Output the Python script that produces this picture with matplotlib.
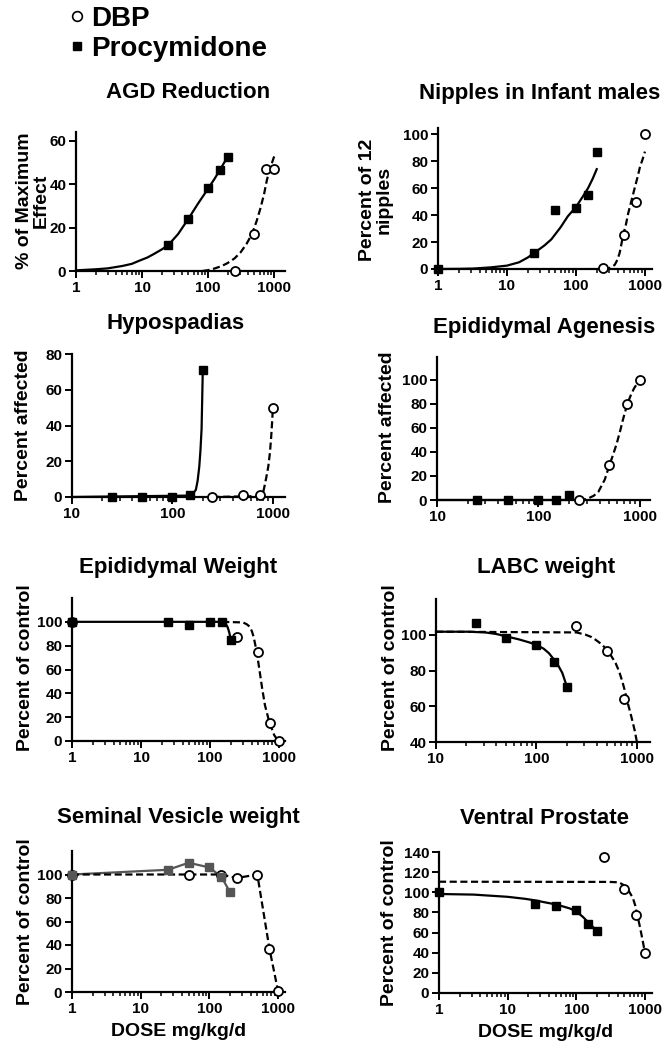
import matplotlib
matplotlib.use("Agg")
import matplotlib.pyplot as plt
from matplotlib.lines import Line2D
from matplotlib.ticker import FixedLocator, LogLocator, NullFormatter

plt.rcParams['font.family'] = ['Liberation Sans', 'DejaVu Sans']
plt.rcParams['font.weight'] = 'bold'

# ---- data (dose in mg/kg/d) ----
# AGD reduction
agd_pro_dose = [25, 50, 100, 150, 200]
agd_pro = [12, 24, 38, 46.5, 52.5]
agd_dbp_dose = [250, 500, 750, 1000]
agd_dbp = [0, 17, 47, 47]
agd_pro_fit_dose = [1, 2, 3, 5, 7, 9, 12, 15, 20, 25, 35, 50, 70, 100, 125, 150, 175, 200]
agd_pro_fit = [0.3, 0.8, 1.2, 2.3, 3.3, 4.7, 6.2, 7.8, 10, 12, 17, 24, 31, 38, 42.5, 46.5, 50, 52.5]
agd_dbp_fit_dose = [82, 100, 123, 160, 195, 250, 309, 380, 462, 540, 617, 700, 776, 880, 1000]
agd_dbp_fit = [0, 0.4, 1.1, 2.3, 3.6, 5.8, 8.6, 12.5, 17.2, 23, 28.9, 35.5, 42.2, 48, 53]

# Nipples in infant males
nip_pro_dose = [1, 25, 50, 100, 150, 200]
nip_pro = [0, 12, 44, 45, 55, 87]
nip_dbp_dose = [250, 500, 750, 1000]
nip_dbp = [1, 25, 50, 100]
nip_pro_fit_dose = [1, 2, 3.2, 5.8, 10, 15, 20, 25, 35, 44, 60, 76, 100, 125, 150, 175, 200]
nip_pro_fit = [0, 0.1, 0.3, 1.2, 2.5, 5, 8.5, 12, 17.5, 22, 31, 39, 46, 53.5, 60, 67, 74]
nip_dbp_fit_dose = [250, 300, 364, 400, 430, 483, 530, 570, 640, 710, 780, 850, 920, 1000]
nip_dbp_fit = [0, 0.5, 3, 7, 12, 25, 33, 41, 51, 60, 68, 76, 81, 87]

# Hypospadias
hyp_pro_dose = [25, 50, 100, 150, 200]
hyp_pro = [0, 0, 0, 1.3, 71]
hyp_dbp_dose = [250, 500, 750, 1000]
hyp_dbp = [0, 1.3, 1.3, 50]
hyp_pro_fit_dose = [10, 150, 163, 171, 178, 185, 190, 195, 200]
hyp_pro_fit = [0, 0.8, 2.5, 4, 9, 17, 26, 38, 68]
hyp_dbp_fit_dose = [250, 750, 800, 825, 860, 900, 935, 960, 985, 1000]
hyp_dbp_fit = [0, 0.5, 2.5, 6, 11, 17, 25, 33, 43, 50]

# Epididymal agenesis
epa_pro_dose = [25, 50, 100, 150, 200]
epa_pro = [0, 0, 0, 0, 4]
epa_dbp_dose = [250, 500, 750, 1000]
epa_dbp = [0, 29, 80, 99.5]
epa_pro_fit_dose = [10, 200]
epa_pro_fit = [0, 0]
epa_dbp_fit_dose = [250, 280, 310, 350, 390, 450, 500, 545, 590, 640, 680, 750, 810, 875, 940, 1000]
epa_dbp_fit = [0, 0.5, 1.4, 3.5, 7, 17, 29, 38, 47, 58, 67, 80, 87, 93, 97, 99.5]

# Epididymal weight
epw_pro_dose = [1, 25, 50, 100, 150, 200]
epw_pro = [100, 100, 97.5, 100, 100, 85]
epw_dbp_dose = [1, 250, 500, 750, 1000]
epw_dbp = [100, 87, 75, 15, 0]
epw_pro_fit_dose = [1, 150, 160, 170, 180, 190, 200]
epw_pro_fit = [100, 100, 99.5, 98, 95.5, 91, 85]
epw_dbp_fit_dose = [150, 300, 340, 375, 405, 430, 470, 510, 570, 625, 700, 750, 800, 850, 920, 1000]
epw_dbp_fit = [100, 99.5, 98, 96, 92, 87, 76, 63, 44, 30, 19, 14, 9, 5, 2, 0]

# LABC weight
lab_pro_dose = [25, 50, 100, 150, 200]
lab_pro = [106.6, 98.3, 94.3, 85, 70.7]
lab_dbp_dose = [250, 500, 750]
lab_dbp = [104.8, 91, 64]
lab_pro_fit_dose = [10, 21, 31, 40, 50, 67, 85, 100, 118, 133, 152, 167, 181, 200]
lab_pro_fit = [101.7, 101.7, 101.3, 100.4, 99.1, 97.4, 95.7, 94.3, 92.2, 89.7, 85.6, 82.2, 78.6, 71.3]
lab_dbp_fit_dose = [10, 250, 309, 350, 388, 450, 512, 560, 613, 665, 715, 760, 800, 850, 900, 950, 1000]
lab_dbp_fit = [101.7, 101.3, 100, 98.8, 97.2, 94.5, 91, 87.8, 84.2, 79.5, 74, 68.5, 63, 57.5, 52, 46.5, 40]

# Seminal vesicle weight (points joined, no fit)
sv_pro_dose = [1, 25, 50, 100, 150, 200]
sv_pro = [100, 104, 110, 106, 98, 85]
sv_dbp_dose = [1, 50, 150, 250, 500, 750, 1000]
sv_dbp = [100, 100, 100, 97, 100, 37, 1]

# Ventral prostate
vp_pro_dose = [1, 25, 50, 100, 150, 200]
vp_pro = [100, 88.4, 86, 82.8, 69, 61.5]
vp_dbp_dose = [250, 500, 750, 1000]
vp_dbp = [135, 103, 77.5, 39.7]
vp_pro_fit_dose = [1, 3.2, 10, 18, 25, 35, 50, 60, 80, 100, 125, 150, 175, 200]
vp_pro_fit = [98.3, 97.7, 95.5, 93.5, 92, 90, 88, 86.5, 84, 81, 75.5, 70, 65.5, 61]
vp_dbp_fit_dose = [1, 300, 380, 428, 480, 537, 580, 620, 668, 720, 773, 830, 883, 940, 1000]
vp_dbp_fit = [110.5, 110.3, 110, 109.5, 107.5, 104.5, 101.5, 98, 94, 87, 77, 68, 59, 49.5, 39.6]

W, H = 671, 1050
fig = plt.figure(figsize=(W / 100, H / 100), dpi=100)
fig.patch.set_facecolor('white')

LW = 1.6


def make_axes(left, top, right, bottom, xmin, xmax, ylo, yhi, yticks):
    ax = fig.add_axes([left / W, 1 - bottom / H, (right - left) / W, (bottom - top) / H])
    ax.set_xscale('log')
    ax.set_xlim(xmin, xmax)
    ax.set_ylim(ylo, yhi)
    majors = [t for t in [1, 10, 100, 1000] if t >= xmin]
    ax.xaxis.set_major_locator(FixedLocator(majors))
    ax.set_xticklabels([str(t) for t in majors])
    ax.xaxis.set_minor_locator(LogLocator(base=10, subs=range(2, 10)))
    ax.xaxis.set_minor_formatter(NullFormatter())
    ax.set_yticks(yticks)
    ax.set_yticklabels([str(t) for t in yticks])
    for s in ['top', 'right']:
        ax.spines[s].set_visible(False)
    for s in ['left', 'bottom']:
        ax.spines[s].set_linewidth(LW)
    ax.tick_params(which='major', direction='out', length=5, width=1.4, labelsize=11, pad=2)
    ax.tick_params(which='minor', direction='out', length=3, width=1.1)
    ax.tick_params(axis='y', which='minor', length=0)
    ax.patch.set_alpha(0)
    return ax


def fit_line(ax, x, y, dashed=False, color='black'):
    if dashed:
        ax.plot(x, y, color=color, lw=LW, dashes=(3.2, 1.6), clip_on=False, zorder=2)
    else:
        ax.plot(x, y, color=color, lw=LW, clip_on=False, zorder=2)


def squares(ax, x, y, color='black'):
    ax.plot(x, y, 's', color=color, ms=5.5, clip_on=False, zorder=4)


def circles(ax, x, y):
    ax.plot(x, y, 'o', mfc='white', mec='black', ms=6.5, mew=1.3, clip_on=False, zorder=3)


def title(x, y, s):
    fig.text(x / W, 1 - y / H, s, ha='center', va='center', fontsize=16, fontweight='bold')


def ylab(x, y, s):
    fig.text(x / W, 1 - y / H, s, ha='center', va='center', rotation=90,
             fontsize=14, fontweight='bold', linespacing=1.0)


# AGD reduction
ax = make_axes(76, 132, 285, 271, 1, 1450, 0, 64, [0, 20, 40, 60])
fit_line(ax, agd_pro_fit_dose, agd_pro_fit)
fit_line(ax, agd_dbp_fit_dose, agd_dbp_fit, dashed=True)
squares(ax, agd_pro_dose, agd_pro)
circles(ax, agd_dbp_dose, agd_dbp)
title(188, 92, 'AGD Reduction')
ylab(33, 201, '% of Maximum\nEffect')

# Nipples
ax = make_axes(438, 128, 652, 269, 1, 1265, 0, 104.5, [0, 20, 40, 60, 80, 100])
fit_line(ax, nip_pro_fit_dose, nip_pro_fit)
fit_line(ax, nip_dbp_fit_dose, nip_dbp_fit, dashed=True)
squares(ax, nip_pro_dose, nip_pro)
circles(ax, nip_dbp_dose, nip_dbp)
title(540, 94, 'Nipples in Infant males')
ylab(376, 200, 'Percent of 12\nnipples')

# Hypospadias
ax = make_axes(72, 354, 285, 497, 10, 1320, 0, 80, [0, 20, 40, 60, 80])
fit_line(ax, hyp_pro_fit_dose, hyp_pro_fit)
fit_line(ax, hyp_dbp_fit_dose, hyp_dbp_fit, dashed=True)
squares(ax, hyp_pro_dose, hyp_pro)
circles(ax, hyp_dbp_dose, hyp_dbp)
title(176, 323, 'Hypospadias')
ylab(24, 425, 'Percent affected')

# Epididymal agenesis
ax = make_axes(437, 357, 650, 500, 10, 1255, 0, 119, [0, 20, 40, 60, 80, 100])
fit_line(ax, epa_pro_fit_dose, epa_pro_fit)
fit_line(ax, epa_dbp_fit_dose, epa_dbp_fit, dashed=True)
squares(ax, epa_pro_dose, epa_pro)
circles(ax, epa_dbp_dose, epa_dbp)
title(544, 328, 'Epididymal Agenesis')
ylab(388, 427, 'Percent affected')

# Epididymal weight
ax = make_axes(72, 598, 285, 741, 1, 1220, 0, 120, [0, 20, 40, 60, 80, 100])
fit_line(ax, epw_pro_fit_dose, epw_pro_fit)
fit_line(ax, epw_dbp_fit_dose, epw_dbp_fit, dashed=True)
circles(ax, epw_dbp_dose, epw_dbp)
squares(ax, epw_pro_dose, epw_pro)
title(178, 568, 'Epididymal Weight')
ylab(26, 668, 'Percent of control')

# LABC weight
ax = make_axes(436, 599, 650, 742, 10, 1350, 40, 120, [40, 60, 80, 100])
fit_line(ax, lab_pro_fit_dose, lab_pro_fit)
fit_line(ax, lab_dbp_fit_dose, lab_dbp_fit, dashed=True)
squares(ax, lab_pro_dose, lab_pro)
circles(ax, lab_dbp_dose, lab_dbp)
title(546, 568, 'LABC weight')
ylab(390, 668, 'Percent of control')

# Seminal vesicle weight
ax = make_axes(72, 851, 285, 992, 1, 1265, 0, 120, [0, 20, 40, 60, 80, 100])
fit_line(ax, sv_pro_dose, sv_pro, color='#555555')
fit_line(ax, sv_dbp_dose, sv_dbp, dashed=True)
circles(ax, sv_dbp_dose, sv_dbp)
squares(ax, sv_pro_dose, sv_pro, color='#555555')
title(178, 818, 'Seminal Vesicle weight')
ylab(26, 922, 'Percent of control')
ax.set_xlabel('DOSE mg/kg/d', fontsize=14, fontweight='bold', labelpad=5)

# Ventral prostate
ax = make_axes(439, 852, 652, 993, 1, 1265, 0, 140, [0, 20, 40, 60, 80, 100, 120, 140])
fit_line(ax, vp_pro_fit_dose, vp_pro_fit)
fit_line(ax, vp_dbp_fit_dose, vp_dbp_fit, dashed=True)
squares(ax, vp_pro_dose, vp_pro)
circles(ax, vp_dbp_dose, vp_dbp)
title(545, 818, 'Ventral Prostate')
ylab(389, 923, 'Percent of control')
ax.set_xlabel('DOSE mg/kg/d', fontsize=14, fontweight='bold', labelpad=5)

# legend at top left
handles = [
    Line2D([], [], marker='o', ls='none', mfc='white', mec='black', ms=7, mew=1.2, label='DBP'),
    Line2D([], [], marker='s', ls='none', color='black', ms=6, label='Procymidone'),
]
fig.legend(handles=handles, loc='upper left', bbox_to_anchor=(70 / W, 1 - 6 / H),
           frameon=False, prop={'size': 20, 'weight': 'bold'}, handlelength=0.5,
           handletextpad=0.25, labelspacing=0.15, borderpad=0, borderaxespad=0)

fig.savefig('out.png', dpi=100, facecolor='white')
